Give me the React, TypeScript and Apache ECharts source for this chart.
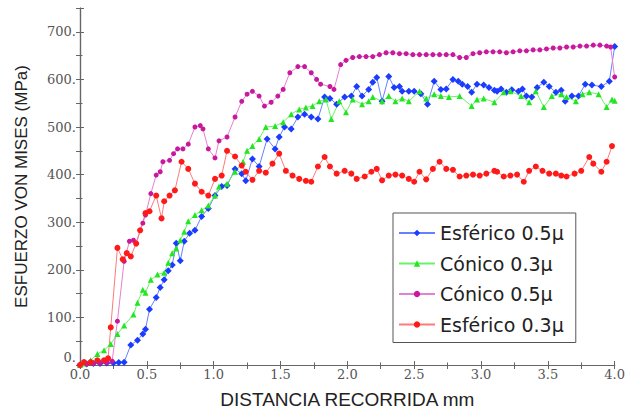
import React, { useEffect, useRef } from "react";
import * as echarts from "echarts";

const legendNames = ["Esférico 0.5μ", "Cónico 0.3μ", "Cónico 0.5μ", "Esférico 0.3μ"];
const xTicks = [0, 0.5, 1, 1.5, 2, 2.5, 3, 3.5, 4];
const yTicks = [0, 100, 200, 300, 400, 500, 600, 700];

const esferico05: [number, number][] = [
  [0, 0], [0.05, 2], [0.1, 3], [0.15, 3], [0.2, 4], [0.25, 4], [0.29, 5], [0.33, 6], [0.38, 42], [0.43, 52],
  [0.47, 65], [0.49, 75], [0.52, 117], [0.57, 142], [0.6, 163], [0.63, 179], [0.66, 198], [0.69, 210], [0.72, 256],
  [0.75, 219], [0.78, 260], [0.82, 277], [0.86, 283], [0.91, 312], [0.96, 329], [1.01, 356], [1.06, 375], [1.1, 377],
  [1.16, 412], [1.21, 402], [1.24, 387], [1.29, 433], [1.34, 417], [1.4, 475], [1.46, 454], [1.49, 479], [1.53, 500],
  [1.58, 496], [1.63, 521], [1.68, 527], [1.73, 521], [1.78, 517], [1.83, 563], [1.87, 560], [1.92, 548], [1.98, 563],
  [2.03, 565], [2.07, 585], [2.11, 565], [2.16, 579], [2.19, 594], [2.22, 604], [2.26, 554], [2.31, 606], [2.35, 583],
  [2.39, 585], [2.41, 575], [2.46, 575], [2.5, 575], [2.55, 570], [2.6, 548], [2.65, 596], [2.7, 579], [2.74, 580],
  [2.79, 600], [2.83, 596], [2.86, 590], [2.9, 585], [2.93, 573], [2.97, 590], [3.02, 588], [3.06, 583], [3.1, 577],
  [3.12, 575], [3.15, 580], [3.19, 573], [3.23, 578], [3.28, 575], [3.31, 580], [3.34, 565], [3.38, 563], [3.42, 583],
  [3.47, 594], [3.51, 585], [3.56, 573], [3.6, 577], [3.63, 554], [3.68, 565], [3.73, 565], [3.78, 590], [3.83, 588],
  [3.9, 585], [3.96, 596], [4.0, 669],
];

const conico03: [number, number][] = [
  [0, 0], [0.03, 3], [0.08, 10], [0.13, 23], [0.18, 31], [0.23, 44], [0.28, 65], [0.33, 83], [0.4, 106], [0.43, 131],
  [0.47, 158], [0.49, 152], [0.53, 179], [0.58, 190], [0.63, 194], [0.66, 215], [0.69, 235], [0.72, 245], [0.75, 262],
  [0.78, 280], [0.81, 302], [0.86, 315], [0.91, 325], [0.96, 335], [1.01, 356], [1.04, 375], [1.1, 381], [1.16, 406],
  [1.22, 427], [1.25, 450], [1.29, 460], [1.34, 475], [1.39, 500], [1.46, 502], [1.52, 510], [1.58, 527], [1.64, 537],
  [1.69, 541], [1.74, 544], [1.79, 554], [1.84, 558], [1.88, 517], [1.94, 554], [1.99, 531], [2.04, 558], [2.11, 548],
  [2.16, 554], [2.19, 563], [2.26, 554], [2.31, 565], [2.36, 554], [2.41, 560], [2.46, 554], [2.54, 575], [2.59, 560],
  [2.65, 569], [2.7, 565], [2.76, 563], [2.84, 565], [2.93, 544], [2.97, 558], [3.02, 560], [3.1, 552], [3.17, 573],
  [3.22, 575], [3.3, 565], [3.36, 552], [3.41, 575], [3.47, 542], [3.53, 565], [3.6, 569], [3.64, 563], [3.71, 554],
  [3.76, 569], [3.81, 573], [3.88, 569], [3.94, 542], [3.98, 558], [4.0, 555],
];

const conico05: [number, number][] = [
  [0, 0], [0.05, 2], [0.1, 3], [0.15, 4], [0.2, 5], [0.24, 8], [0.28, 92], [0.33, 218], [0.37, 260], [0.4, 262],
  [0.42, 256], [0.47, 298], [0.49, 315], [0.53, 360], [0.57, 399], [0.6, 406], [0.62, 427], [0.67, 430], [0.7, 444],
  [0.73, 454], [0.77, 454], [0.81, 464], [0.86, 500], [0.9, 503], [0.92, 496], [0.96, 454], [1.01, 435], [1.04, 471],
  [1.1, 479], [1.16, 521], [1.21, 554], [1.25, 569], [1.29, 575], [1.34, 565], [1.38, 544], [1.43, 552], [1.48, 565],
  [1.52, 579], [1.57, 614], [1.63, 627], [1.68, 627], [1.73, 614], [1.77, 600], [1.8, 590], [1.87, 585], [1.9, 579],
  [1.95, 631], [1.99, 640], [2.04, 646], [2.09, 648], [2.14, 648], [2.19, 648], [2.24, 652], [2.29, 656], [2.34, 656],
  [2.39, 654], [2.44, 654], [2.49, 652], [2.54, 652], [2.59, 652], [2.64, 652], [2.69, 652], [2.74, 652], [2.79, 652],
  [2.84, 646], [2.89, 646], [2.94, 654], [2.99, 656], [3.04, 658], [3.09, 658], [3.14, 658], [3.19, 656], [3.24, 658],
  [3.29, 660], [3.34, 660], [3.39, 662], [3.44, 662], [3.49, 664], [3.54, 666], [3.59, 666], [3.64, 668], [3.69, 668],
  [3.74, 670], [3.79, 670], [3.84, 672], [3.89, 672], [3.94, 670], [3.97, 668], [4.0, 605],
];

const esferico03: [number, number][] = [
  [0, 0], [0.03, 6], [0.08, 6], [0.13, 10], [0.18, 10], [0.21, 14], [0.23, 79], [0.28, 246], [0.32, 222], [0.35, 235],
  [0.38, 228], [0.42, 255], [0.45, 283], [0.49, 319], [0.52, 323], [0.57, 356], [0.61, 308], [0.63, 344], [0.67, 356],
  [0.71, 367], [0.76, 427], [0.81, 412], [0.86, 381], [0.91, 364], [0.96, 356], [1.01, 391], [1.06, 398], [1.1, 450],
  [1.16, 438], [1.21, 419], [1.24, 406], [1.29, 389], [1.34, 408], [1.39, 404], [1.44, 423], [1.49, 444], [1.54, 408],
  [1.59, 398], [1.64, 391], [1.69, 387], [1.73, 385], [1.78, 417], [1.83, 437], [1.87, 417], [1.92, 402], [1.98, 408],
  [2.03, 402], [2.07, 391], [2.13, 396], [2.18, 406], [2.22, 412], [2.26, 388], [2.31, 398], [2.36, 400], [2.41, 398],
  [2.46, 391], [2.5, 385], [2.54, 406], [2.59, 390], [2.64, 412], [2.69, 427], [2.74, 412], [2.79, 410], [2.84, 396],
  [2.89, 398], [2.94, 400], [2.99, 398], [3.04, 402], [3.1, 408], [3.12, 406], [3.17, 396], [3.22, 398], [3.27, 400],
  [3.32, 385], [3.36, 408], [3.41, 417], [3.46, 408], [3.51, 402], [3.56, 402], [3.6, 398], [3.64, 396], [3.7, 402],
  [3.75, 408], [3.81, 437], [3.84, 423], [3.9, 406], [3.94, 427], [3.98, 460],
];

export default function App() {
  const ref = useRef<HTMLDivElement>(null);
  useEffect(() => {
    if (!ref.current) return;
    const chart = echarts.init(ref.current, null, { renderer: "svg" });
    const axisColor = "#666";
    const labelFont = { fontFamily: "DejaVu Serif", fontSize: 13, color: "#555" };
    const mk = (name: string, data: [number, number][], symbol: string, size: number, mColor: string, lColor: string) => ({
      name,
      type: "line",
      data,
      symbol,
      symbolSize: size,
      showSymbol: true,
      xAxisIndex: 0,
      yAxisIndex: 0,
      itemStyle: { color: mColor },
      lineStyle: { color: lColor, width: 1 },
    });
    chart.setOption({
      animation: false,
      backgroundColor: "#fff",
      grid: { left: 80, right: 12, top: 8, bottom: 46, containLabel: false },
      legend: {
        orient: "vertical",
        left: 393,
        top: 213,
        padding: [10, 12, 8, 5],
        itemGap: 10.5,
        itemWidth: 36,
        itemHeight: 8,
        borderColor: "#555",
        borderWidth: 1,
        backgroundColor: "#fff",
        data: legendNames,
        textStyle: { fontFamily: "DejaVu Sans", fontSize: 19, color: "#222", lineHeight: 20 },
      },
      xAxis: [
        {
          type: "value",
          min: xTicks[0],
          max: xTicks[xTicks.length - 1],
          interval: 0.5,
          name: "DISTANCIA RECORRIDA mm",
          nameLocation: "middle",
          nameGap: 25,
          nameTextStyle: { fontFamily: "Liberation Sans", fontSize: 19, color: "#222" },
          axisLine: { lineStyle: { color: axisColor, width: 1.2 } },
          axisTick: { inside: true, length: 4, lineStyle: { color: axisColor } },
          minorTick: { show: true, splitNumber: 2, length: 2.5, lineStyle: { color: axisColor } },
          axisLabel: { ...labelFont, margin: 3, formatter: (v: number) => v.toFixed(1) },
          splitLine: { show: false },
        },
        {
          type: "value",
          position: "top",
          min: 0,
          max: 4,
          interval: 0.25,
          axisLine: { lineStyle: { color: axisColor, width: 1.2 } },
          axisTick: { inside: true, length: 4, lineStyle: { color: axisColor } },
          axisLabel: { show: false },
          splitLine: { show: false },
        },
      ],
      yAxis: [
        {
          type: "value",
          min: yTicks[0],
          max: 750,
          interval: 100,
          name: "ESFUERZO VON MISES (MPa)",
          nameLocation: "middle",
          nameGap: 50,
          nameTextStyle: { fontFamily: "Liberation Sans", fontSize: 17, color: "#222" },
          axisLine: { show: true, lineStyle: { color: axisColor, width: 1.2 } },
          axisTick: { show: true, inside: true, length: 4, lineStyle: { color: axisColor } },
          minorTick: { show: true, splitNumber: 2, length: 2.5, lineStyle: { color: axisColor } },
          axisLabel: {
            ...labelFont,
            margin: 4,
            showMaxLabel: false,
            formatter: (v: number) => (v === 0 ? "{z|0.}" : yTicks.includes(v) ? v + "." : ""),
            rich: { z: { ...labelFont, padding: [0, 0, 16, 0] } },
          },
          splitLine: { show: false },
        },
        {
          type: "value",
          position: "right",
          min: 0,
          max: 750,
          interval: 50,
          axisLine: { show: true, lineStyle: { color: axisColor, width: 1.2 } },
          axisTick: { show: true, inside: true, length: 4, lineStyle: { color: axisColor } },
          axisLabel: { show: false },
          splitLine: { show: false },
        },
      ],
      series: [
        mk(legendNames[0], esferico05, "diamond", 7, "#1a3cff", "#6680ff"),
        mk(legendNames[1], conico03, "triangle", 6, "#22e622", "#66f566"),
        mk(legendNames[2], conico05, "circle", 5, "#c8189c", "#e680d0"),
        mk(legendNames[3], esferico03, "circle", 6, "#ff1a1a", "#ff7a7a"),
      ],
    });
    return () => chart.dispose();
  }, []);
  return <div ref={ref} style={{ position: "fixed", left: 0, top: 0, width: 628, height: 414 }} />;
}
